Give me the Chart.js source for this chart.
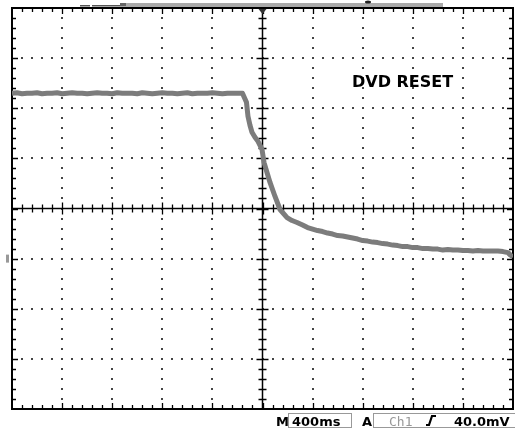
<!DOCTYPE html>
<html lang="en">
  <head>
    <meta charset="UTF-8">
    <title>DVD RESET</title>
    <script src="https://cdn.jsdelivr.net/npm/chart.js"></script>
    <style>
      body { margin: 0; background: #fff; }
    </style>
  </head>

  <body>
    <canvas id="scope" width="515" height="434"></canvas>

    <script>
      // graticule divisions (10 x 8)
      const xDivisions = [0, 1, 2, 3, 4, 5, 6, 7, 8, 9, 10]
      const yDivisions = [-4, -3, -2, -1, 0, 1, 2, 3, 4]

      // trace in divisions
      const traceTime = [
        0, 0.1, 0.2, 0.3, 0.4, 0.5, 0.6, 0.7, 0.8, 0.9,
        1.0, 1.1, 1.2, 1.3, 1.4, 1.5, 1.6, 1.7, 1.8, 1.9,
        2.0, 2.1, 2.2, 2.3, 2.4, 2.5, 2.6, 2.7, 2.8, 2.9,
        3.0, 3.1, 3.2, 3.3, 3.4, 3.5, 3.6, 3.7, 3.8, 3.9,
        4.0, 4.1, 4.2, 4.3, 4.4, 4.5, 4.6,
        4.68, 4.71, 4.75, 4.79, 4.85, 4.91, 4.99, 5.03, 5.09, 5.15,
        5.25, 5.35, 5.49, 5.59, 5.69, 5.8,
        5.9, 6.0, 6.1, 6.2, 6.3, 6.4, 6.5, 6.6, 6.7, 6.8, 6.9,
        7.0, 7.1, 7.2, 7.3, 7.4, 7.5, 7.6, 7.7, 7.8, 7.9,
        8.0, 8.1, 8.2, 8.3, 8.4, 8.5, 8.6, 8.7, 8.8, 8.9,
        9.0, 9.1, 9.2, 9.3, 9.4, 9.5, 9.6, 9.7, 9.8, 9.9, 9.95, 10
      ]
      const traceLevel = [
        2.30, 2.31, 2.29, 2.30, 2.30, 2.31, 2.29, 2.30, 2.30, 2.31,
        2.29, 2.30, 2.31, 2.30, 2.30, 2.29, 2.30, 2.31, 2.30, 2.30,
        2.29, 2.31, 2.30, 2.30, 2.30, 2.29, 2.31, 2.30, 2.29, 2.30,
        2.31, 2.30, 2.30, 2.29, 2.30, 2.31, 2.29, 2.30, 2.30, 2.30,
        2.31, 2.30, 2.29, 2.30, 2.30, 2.30, 2.30,
        2.12, 1.84, 1.66, 1.52, 1.42, 1.34, 1.18, 0.92, 0.72, 0.52,
        0.24, -0.02, -0.18, -0.24, -0.28, -0.33,
        -0.38, -0.41, -0.44, -0.46, -0.49, -0.51, -0.54, -0.55, -0.57, -0.59, -0.61,
        -0.64, -0.65, -0.67, -0.68, -0.70, -0.71, -0.73, -0.74, -0.76, -0.76,
        -0.78, -0.78, -0.80, -0.80, -0.81, -0.81, -0.83, -0.82, -0.83, -0.83,
        -0.84, -0.84, -0.85, -0.84, -0.85, -0.85, -0.85, -0.85, -0.86, -0.88, -0.93, -0.97
      ]

      const groundLevel = -1
      const triggerTime = 5
      const traceLabel = 'DVD RESET'
      const readout = { timebase: '400ms', source: 'Ch1', trigger: '40.0mV' }

      const punti = traceTime.map((t, i) => ({ x: t, y: traceLevel[i] }))

      // dotted graticule, center cross with ticks, frame ticks
      const graticule = {
        id: 'graticule',
        beforeDatasetsDraw(chart) {
          const c = chart.ctx
          const sx = chart.scales.x
          const sy = chart.scales.y
          const L = sx.getPixelForValue(0), R = sx.getPixelForValue(10)
          const T = sy.getPixelForValue(4), B = sy.getPixelForValue(-4)
          const cx = sx.getPixelForValue(5), cy = sy.getPixelForValue(0)
          c.save()

          // dots
          c.fillStyle = '#444'
          yDivisions.forEach(d => {
            if (Math.abs(d) == 4 || d == 0) return
            const y = sy.getPixelForValue(d)
            for (let k = 1; k < 50; k++) {
              const x = sx.getPixelForValue(k * 0.2)
              c.fillRect(Math.round(x) - 1, Math.round(y) - 1, 2, 2)
            }
          })
          xDivisions.forEach(d => {
            if (d == 0 || d == 10 || d == 5) return
            const x = sx.getPixelForValue(d)
            for (let k = 1; k < 40; k++) {
              const y = sy.getPixelForValue(-4 + k * 0.2)
              c.fillRect(Math.round(x) - 1, Math.round(y) - 1, 2, 2)
            }
          })

          c.strokeStyle = '#000'
          c.lineWidth = 1.5
          // center cross
          c.beginPath()
          c.moveTo(L, cy); c.lineTo(R, cy)
          c.moveTo(cx, T); c.lineTo(cx, B)
          c.stroke()

          c.lineWidth = 1.3
          c.beginPath()
          for (let k = 1; k < 50; k++) {
            const x = Math.round(sx.getPixelForValue(k * 0.2)) + 0.5
            const big = k % 5 == 0 ? 6 : 4
            c.moveTo(x, cy - big); c.lineTo(x, cy + big)
            // top and bottom frame ticks
            const f = k % 5 == 0 ? 6 : 4
            c.moveTo(x, T); c.lineTo(x, T + f)
            c.moveTo(x, B); c.lineTo(x, B - f)
          }
          for (let k = 1; k < 40; k++) {
            const y = Math.round(sy.getPixelForValue(-4 + k * 0.2)) + 0.5
            const big = k % 5 == 0 ? 6 : 4
            c.moveTo(cx - big, y); c.lineTo(cx + big, y)
            const f = k % 5 == 0 ? 6 : 4
            c.moveTo(L, y); c.lineTo(L + f, y)
            c.moveTo(R, y); c.lineTo(R - f, y)
          }
          c.stroke()

          // frame
          c.lineWidth = 2
          c.strokeRect(L, T, R - L, B - T)

          // ground marker on the left edge
          const gy = sy.getPixelForValue(groundLevel)
          c.fillStyle = '#999'
          c.fillRect(L - 6, gy - 4, 3, 8)

          // record bar on top
          c.fillStyle = '#555'
          c.fillRect(80, 5, 10, 1.5)
          c.fillRect(92, 5, 30, 1.5)
          c.fillStyle = '#aaa'
          c.fillRect(120, 3, 323, 4)
          c.fillStyle = '#666'
          c.fillRect(120, 3, 6, 3)
          c.fillStyle = '#222'
          c.beginPath()
          c.ellipse(368, 2, 3, 1.5, 0, 0, Math.PI * 2)
          c.fill()

          // trigger position marker
          const tx = sx.getPixelForValue(triggerTime)
          c.fillStyle = '#333'
          c.beginPath()
          c.moveTo(tx - 4, T + 1); c.lineTo(tx + 4, T + 1); c.lineTo(tx, T + 6)
          c.fill()
          c.restore()
        },
        afterDraw(chart) {
          const c = chart.ctx
          c.save()
          c.fillStyle = '#000'
          c.textBaseline = 'alphabetic'
          c.font = 'bold 16px "DejaVu Sans"'
          c.fillText(traceLabel, 352, 87)

          c.font = 'bold 13px "DejaVu Sans"'
          c.fillText('M', 276, 426)
          c.strokeStyle = '#999'
          c.lineWidth = 1
          c.strokeRect(288.5, 413.5, 63, 14)
          c.fillText(readout.timebase, 292, 426)
          c.fillText('A', 362, 426)
          c.strokeRect(373.5, 413.5, 145, 14)
          c.fillStyle = '#999'
          c.font = '13px "DejaVu Sans Mono"'
          c.fillText(readout.source, 389, 426)

          // rising edge symbol
          c.strokeStyle = '#000'
          c.lineWidth = 2.2
          c.beginPath()
          c.moveTo(426, 425); c.lineTo(429, 425); c.lineTo(432, 416); c.lineTo(436, 416)
          c.stroke()

          c.fillStyle = '#000'
          c.font = 'bold 13px "DejaVu Sans"'
          c.fillText(readout.trigger, 454, 426)
          c.restore()
        }
      }

      const ctx = document.getElementById('scope')

      let grafico = new Chart(ctx, {
        type: 'scatter',
        data: {
          datasets: [{
            data: punti,
            showLine: true,
            borderColor: '#7c7c7c',
            borderWidth: 5,
            borderJoinStyle: 'round',
            pointRadius: 0,
            tension: 0
          }]
        },
        options: {
          responsive: false,
          animation: false,
          devicePixelRatio: 1,
          layout: { padding: { left: 12, top: 8, right: 2, bottom: 25 } },
          plugins: { legend: { display: false }, tooltip: { enabled: false } },
          scales: {
            x: { type: 'linear', min: 0, max: 10, display: false },
            y: { type: 'linear', min: -4, max: 4, display: false }
          }
        },
        plugins: [graticule]
      })
    </script>
  </body>
</html>
